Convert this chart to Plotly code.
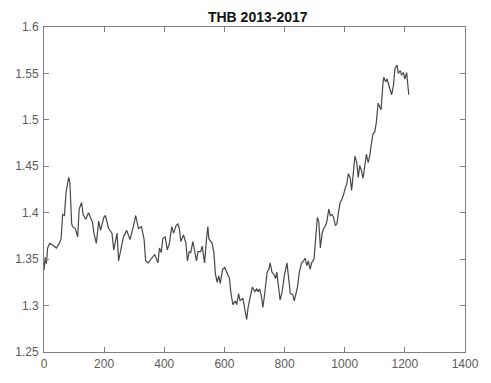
import plotly.graph_objects as go

# Trading-day index and THB rate
day = [0, 4, 8, 12, 19, 30, 41, 51, 57, 62, 68, 73, 82, 86, 92, 95, 104, 112, 117, 125,
       130, 139, 148, 155, 161, 166, 174, 182, 188, 199, 204, 215, 226, 232, 243, 248, 253,
       264, 275, 286, 297, 305, 314, 324, 333, 338, 346, 357, 368, 379, 384, 390, 395, 403,
       410, 417, 425, 431, 439, 445, 450, 455, 464, 472, 477, 483, 488, 495, 499, 507, 512,
       521, 526, 534, 541, 545, 548, 554, 559, 565, 570, 576, 581, 586, 594, 601, 608, 617,
       621, 628, 636, 641, 647, 652, 661, 668, 674, 679, 687, 693, 701, 707, 712, 717, 723,
       728, 734, 742, 748, 752, 758, 764, 770, 774, 780, 785, 792, 799, 808, 814, 819, 827,
       832, 838, 843, 849, 857, 863, 868, 874, 879, 885, 890, 898, 903, 909, 914, 919, 925,
       930, 936, 941, 947, 952, 958, 963, 969, 974, 980, 985, 990, 996, 1001, 1007, 1012,
       1018, 1023, 1029, 1034, 1040, 1045, 1050, 1056, 1061, 1067, 1072, 1078, 1083, 1089,
       1094, 1100, 1105, 1111, 1116, 1121, 1127, 1130, 1136, 1141, 1147, 1152, 1156, 1162,
       1167, 1174, 1178, 1185, 1189, 1195, 1200, 1206, 1209, 1213]
rate = [1.338, 1.352, 1.345, 1.362, 1.367, 1.365, 1.362, 1.367, 1.372, 1.398, 1.397, 1.421,
        1.438, 1.433, 1.388, 1.385, 1.383, 1.374, 1.404, 1.411, 1.398, 1.393, 1.400, 1.395,
        1.390, 1.378, 1.367, 1.391, 1.381, 1.395, 1.397, 1.383, 1.378, 1.360, 1.378, 1.348,
        1.357, 1.374, 1.381, 1.371, 1.385, 1.397, 1.383, 1.385, 1.371, 1.348, 1.346, 1.350,
        1.355, 1.346, 1.362, 1.357, 1.372, 1.374, 1.360, 1.367, 1.385, 1.378, 1.386, 1.388,
        1.383, 1.369, 1.376, 1.367, 1.348, 1.358, 1.357, 1.369, 1.362, 1.348, 1.358, 1.358,
        1.364, 1.346, 1.374, 1.385, 1.372, 1.369, 1.367, 1.357, 1.334, 1.325, 1.332, 1.324,
        1.339, 1.341, 1.336, 1.329, 1.315, 1.301, 1.305, 1.301, 1.313, 1.305, 1.308, 1.294,
        1.285, 1.299, 1.313, 1.320, 1.315, 1.318, 1.315, 1.318, 1.310, 1.298, 1.313, 1.336,
        1.339, 1.346, 1.336, 1.334, 1.329, 1.336, 1.320, 1.306, 1.315, 1.332, 1.346, 1.329,
        1.313, 1.312, 1.305, 1.313, 1.320, 1.336, 1.346, 1.348, 1.351, 1.343, 1.348, 1.339,
        1.346, 1.350, 1.371, 1.395, 1.390, 1.362, 1.378, 1.383, 1.386, 1.391, 1.404, 1.397,
        1.398, 1.395, 1.386, 1.388, 1.402, 1.411, 1.414, 1.419, 1.426, 1.431, 1.442, 1.438,
        1.424, 1.447, 1.461, 1.454, 1.438, 1.451, 1.445, 1.437, 1.449, 1.463, 1.454, 1.461,
        1.475, 1.485, 1.487, 1.497, 1.518, 1.515, 1.511, 1.539, 1.546, 1.541, 1.544, 1.537,
        1.531, 1.527, 1.537, 1.555, 1.559, 1.550, 1.553, 1.548, 1.551, 1.544, 1.551, 1.541,
        1.527]

x_ticks = [0, 200, 400, 600, 800, 1000, 1200, 1400]
y_ticks = [1.25, 1.3, 1.35, 1.4, 1.45, 1.5, 1.55, 1.6]
y_labels = ["1.25", "1.3", "1.35", "1.4", "1.45", "1.5", "1.55", "1.6"]

fig = go.Figure()
fig.add_trace(go.Scatter(x=day, y=rate, mode="lines",
                         line=dict(color="#474747", width=1.2), showlegend=False))

axis_common = dict(
    showgrid=False, zeroline=False, showline=True, linecolor="#808080", linewidth=1,
    mirror="allticks", ticks="inside", ticklen=5, tickcolor="#808080", tickwidth=1,
    tickfont=dict(family="Liberation Sans", size=12, color="#5a5a5a"),
)

fig.update_layout(
    width=491, height=383,
    margin=dict(l=44, r=19, t=27, b=21),
    paper_bgcolor="white", plot_bgcolor="white",
    title=dict(text="<b>THB 2013-2017</b>", x=0.525, xanchor="center",
               y=1 - 17 / 383, yanchor="middle", yref="container",
               font=dict(family="Liberation Sans", size=14, color="#111111")),
    xaxis=dict(range=[0, 1400], tickvals=x_ticks, ticktext=[str(v) for v in x_ticks],
               ticklabelstandoff=1, **axis_common),
    yaxis=dict(range=[1.25, 1.6], tickvals=y_ticks, ticktext=y_labels,
               ticklabelstandoff=2, **axis_common),
)

fig.write_html("out.html")
